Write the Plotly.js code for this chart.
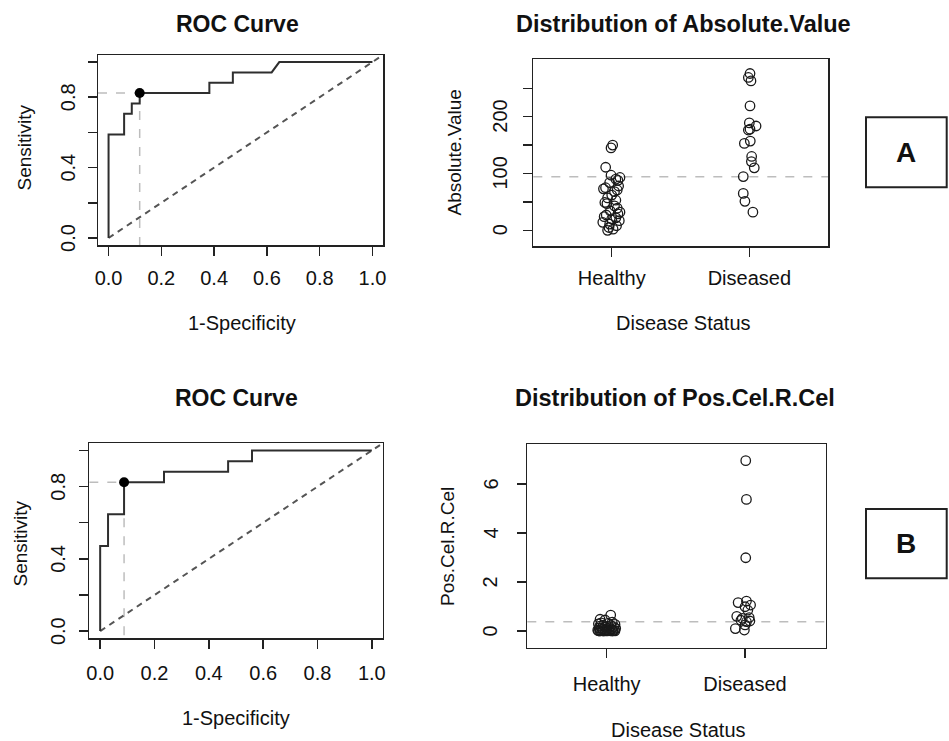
<!DOCTYPE html>
<html>
<head>
<meta charset="utf-8">
<script src="https://cdn.plot.ly/plotly-3.0.1.min.js"></script>
<style>html,body{margin:0;padding:0;background:#fff;}#chart{width:949px;height:741px;}</style>
</head>
<body>
<div id="chart"></div>
<script>
// ---------- Data ----------
// ROC curve A (Absolute.Value)
const rocA_fpr = [0, 0, 0.059, 0.059, 0.088, 0.088, 0.118, 0.118, 0.382, 0.382, 0.471, 0.471, 0.618, 0.647, 1.0];
const rocA_tpr = [0, 0.588, 0.588, 0.706, 0.706, 0.765, 0.765, 0.824, 0.824, 0.882, 0.882, 0.941, 0.941, 1.0, 1.0];
const optA_fpr = [0.118];
const optA_tpr = [0.824];

// ROC curve B (Pos.Cel.R.Cel)
const rocB_fpr = [0, 0, 0.029, 0.029, 0.088, 0.088, 0.235, 0.235, 0.471, 0.471, 0.559, 0.559, 1.0];
const rocB_tpr = [0, 0.471, 0.471, 0.647, 0.647, 0.824, 0.824, 0.882, 0.882, 0.941, 0.941, 1.0, 1.0];
const optB_fpr = [0.088];
const optB_tpr = [0.824];

// Scatter A: Absolute.Value
const groupLabels = ['Healthy', 'Diseased'];
const groupPos = [1, 2];
const absHealthy = [150, 145, 111, 97, 93, 90, 88, 84, 78, 75, 73, 71, 68, 62, 57, 53, 49, 47, 43, 39, 34, 32, 29, 27, 24, 22, 20, 17, 14, 11, 8, 5, 2, 0];
const absHealthyX = [1.007, 0.995, 0.956, 0.995, 1.06, 1.03, 1.045, 0.985, 1.05, 0.955, 0.94, 1.04, 1.02, 1.0, 0.97, 1.03, 0.95, 0.965, 1.02, 1.04, 0.99, 1.06, 1.045, 0.96, 0.945, 1.03, 1.0, 1.055, 0.935, 0.985, 1.035, 0.98, 1.01, 0.97];
const absDiseased = [276, 269, 263, 219, 189, 183.6, 178, 176.5, 157, 153, 130, 121, 110, 94.5, 65, 51, 32];
const absDiseasedX = [2.005, 1.993, 2.012, 2.005, 2.0, 2.049, 2.005, 1.993, 2.007, 1.964, 2.017, 2.015, 2.036, 1.956, 1.956, 1.968, 2.026];
const absThreshold = 94.4;

// Scatter B: Pos.Cel.R.Cel
const posHealthy = [0.65, 0.48, 0.45, 0.36, 0.33, 0.31, 0.29, 0.27, 0.24, 0.22, 0.2, 0.18, 0.16, 0.14, 0.12, 0.11, 0.09, 0.07, 0.05, 0.035, 0.03, 0.03, 0.025, 0.02, 0.02, 0.015, 0.01, 0.01, 0.008, 0.005, 0.003, 0.002, 0.001, 0];
const posHealthyX = [1.029, 0.952, 0.988, 1.04, 0.96, 1.01, 0.94, 1.06, 0.975, 1.03, 0.95, 1.05, 0.99, 1.02, 0.945, 1.065, 0.97, 1.035, 1.0, 0.935, 1.055, 0.985, 1.015, 0.955, 1.045, 0.965, 1.025, 0.94, 1.06, 0.99, 1.005, 0.95, 1.04, 0.975];
const posDiseased = [6.95, 5.37, 2.99, 1.22, 1.16, 1.06, 0.99, 0.85, 0.60, 0.55, 0.52, 0.44, 0.41, 0.38, 0.25, 0.10, 0.04];
const posDiseasedX = [2.005, 2.01, 2.005, 2.01, 1.95, 2.04, 2.0, 2.02, 1.94, 2.03, 1.98, 1.97, 2.035, 2.01, 2.0, 1.93, 1.995];
const posThreshold = 0.38;

// Tick values and labels
const rocXTicks = [0, 0.2, 0.4, 0.6, 0.8, 1.0];
const rocXText = ['0.0', '0.2', '0.4', '0.6', '0.8', '1.0'];
const rocYTicks = [0, 0.2, 0.4, 0.6, 0.8, 1.0];
const rocYText = ['0.0', '', '0.4', '', '0.8', ''];
const absYTicks = [0, 50, 100, 150, 200, 250];
const absYText = ['0', '', '100', '', '200', ''];
const posYTicks = [0, 2, 4, 6];
const posYText = ['0', '2', '4', '6'];

// ---------- Styling ----------
const ROC_RANGE = [-0.04, 1.04];
const FONT = 'Liberation Sans, Arial, Helvetica, sans-serif';
const W = 949, H = 741;
const px = v => v / W;
const py = v => 1 - v / H;

const curveLine = {color: '#2e2e2e', width: 2};
const diagLine = {color: '#555555', width: 2, dash: '6px,5px'};
const refLine = {color: '#bdbdbd', width: 1.5, dash: 'dash'};
const openMarker = {symbol: 'circle-open', size: 9.5, color: '#1a1a1a', line: {width: 1.3, color: '#1a1a1a'}};

function rocTraces(fpr, tpr, ofpr, otpr, xa, ya) {
  return [
    {x: [ROC_RANGE[0], ofpr[0]], y: [otpr[0], otpr[0]], xaxis: xa, yaxis: ya, mode: 'lines', line: refLine},
    {x: [ofpr[0], ofpr[0]], y: [otpr[0], ROC_RANGE[0]], xaxis: xa, yaxis: ya, mode: 'lines', line: refLine},
    {x: [0, ROC_RANGE[1]], y: [0, ROC_RANGE[1]], xaxis: xa, yaxis: ya, mode: 'lines', line: diagLine},
    {x: fpr, y: tpr, xaxis: xa, yaxis: ya, mode: 'lines', line: curveLine},
    {x: ofpr, y: otpr, xaxis: xa, yaxis: ya, mode: 'markers', marker: {color: '#000', size: 10}, cliponaxis: false}
  ];
}

const data = [].concat(
  rocTraces(rocA_fpr, rocA_tpr, optA_fpr, optA_tpr, 'x', 'y'),
  rocTraces(rocB_fpr, rocB_tpr, optB_fpr, optB_tpr, 'x3', 'y3'),
  [
    {x: absHealthyX, y: absHealthy, xaxis: 'x2', yaxis: 'y2', mode: 'markers', marker: openMarker},
    {x: absDiseasedX, y: absDiseased, xaxis: 'x2', yaxis: 'y2', mode: 'markers', marker: openMarker},
    {x: posHealthyX, y: posHealthy, xaxis: 'x4', yaxis: 'y4', mode: 'markers', marker: openMarker},
    {x: posDiseasedX, y: posDiseased, xaxis: 'x4', yaxis: 'y4', mode: 'markers', marker: openMarker}
  ]
);

const tickFont = {family: FONT, size: 20, color: '#111'};
function xAxis(domain, range, tv, tt, anchor, standoff) {
  return {domain: domain, range: range, tickvals: tv, ticktext: tt, anchor: anchor,
    showline: true, mirror: true, linecolor: '#222', linewidth: 1.5,
    ticks: 'outside', ticklen: 9, tickwidth: 1.5, tickcolor: '#222',
    showgrid: false, zeroline: false, tickfont: tickFont, ticklabelstandoff: standoff, fixedrange: true};
}
// y axes: ticks drawn by the axis, rotated labels placed as annotations at the tick values
function yAxis(domain, range, tv, anchor) {
  return {domain: domain, range: range, tickvals: tv, anchor: anchor, showticklabels: false,
    showline: true, mirror: true, linecolor: '#222', linewidth: 1.5,
    ticks: 'outside', ticklen: 9, tickwidth: 1.5, tickcolor: '#222',
    showgrid: false, zeroline: false, fixedrange: true};
}
function yTickLabels(tv, tt, yref, xCenter) {
  const out = [];
  tv.forEach((v, i) => {
    if (tt[i] === '') return;
    out.push({text: tt[i], xref: 'paper', yref: yref, x: px(xCenter), y: v,
      xanchor: 'center', yanchor: 'middle', showarrow: false, textangle: -90,
      font: tickFont});
  });
  return out;
}

function ann(text, x, y, size, bold, angle) {
  return {text: bold ? '<b>' + text + '</b>' : text, xref: 'paper', yref: 'paper',
    x: px(x), y: py(y), xanchor: 'center', yanchor: 'middle', showarrow: false,
    textangle: angle || 0, font: {family: FONT, size: size, color: '#111'}};
}

const layout = {
  width: W, height: H,
  margin: {l: 0, r: 0, t: 0, b: 0},
  paper_bgcolor: '#fff', plot_bgcolor: '#fff',
  showlegend: false,
  xaxis: xAxis([px(98), px(383)], ROC_RANGE, rocXTicks, rocXText, 'y', 5),
  yaxis: yAxis([py(245), py(55)], ROC_RANGE, rocYTicks, 'x'),
  xaxis2: xAxis([px(533.3), px(828.3)], [0.43, 2.574], groupPos, groupLabels, 'y2', 4),
  yaxis2: yAxis([py(246), py(59)], [-27.6, 301.5], absYTicks, 'x2'),
  xaxis3: xAxis([px(89.3), px(382.7)], ROC_RANGE, rocXTicks, rocXText, 'y3', 7),
  yaxis3: yAxis([py(638.3), py(443.3)], ROC_RANGE, rocYTicks, 'x3'),
  xaxis4: xAxis([px(527.3), px(825.7)], [0.426, 2.583], groupPos, groupLabels, 'y4', 9),
  yaxis4: yAxis([py(647.7), py(444)], [-0.68, 7.63], posYTicks, 'x4'),
  shapes: [
    {type: 'line', xref: 'x2 domain', yref: 'y2', x0: 0, x1: 1, y0: absThreshold, y1: absThreshold, line: refLine, layer: 'below'},
    {type: 'line', xref: 'x4 domain', yref: 'y4', x0: 0, x1: 1, y0: posThreshold, y1: posThreshold, line: refLine, layer: 'below'},
    {type: 'rect', xref: 'paper', yref: 'paper', x0: px(866), x1: px(946.7), y0: py(187.3), y1: py(117.3), line: {color: '#222', width: 2}},
    {type: 'rect', xref: 'paper', yref: 'paper', x0: px(866), x1: px(946.7), y0: py(578.3), y1: py(509), line: {color: '#222', width: 2}}
  ],
  annotations: [].concat(
    yTickLabels(rocYTicks, rocYText, 'y', 68),
    yTickLabels(absYTicks, absYText, 'y2', 500),
    yTickLabels(rocYTicks, rocYText, 'y3', 58),
    yTickLabels(posYTicks, posYText, 'y4', 490.5),
    [
      ann('ROC Curve', 237, 24, 23, true),
      ann('Distribution of Absolute.Value', 683.5, 24, 23.5, true),
      ann('ROC Curve', 236, 398, 23, true),
      ann('Distribution of Pos.Cel.R.Cel', 674.5, 398, 23.5, true),
      ann('1-Specificity', 241.5, 323, 20, false),
      ann('Disease Status', 683.5, 323, 20, false),
      ann('1-Specificity', 236, 718, 20, false),
      ann('Disease Status', 678.5, 730, 20, false),
      ann('Sensitivity', 23.5, 148, 19, false, -90),
      ann('Absolute.Value', 453.5, 153, 19, false, -90),
      ann('Sensitivity', 19.5, 544, 19, false, -90),
      ann('Pos.Cel.R.Cel', 447.5, 546.5, 19, false, -90),
      ann('A', 906.3, 152.3, 28, true),
      ann('B', 906.3, 543.6, 28, true)
    ]
  )
};

Plotly.newPlot('chart', data, layout, {displayModeBar: false, staticPlot: true});
</script>
</body>
</html>
